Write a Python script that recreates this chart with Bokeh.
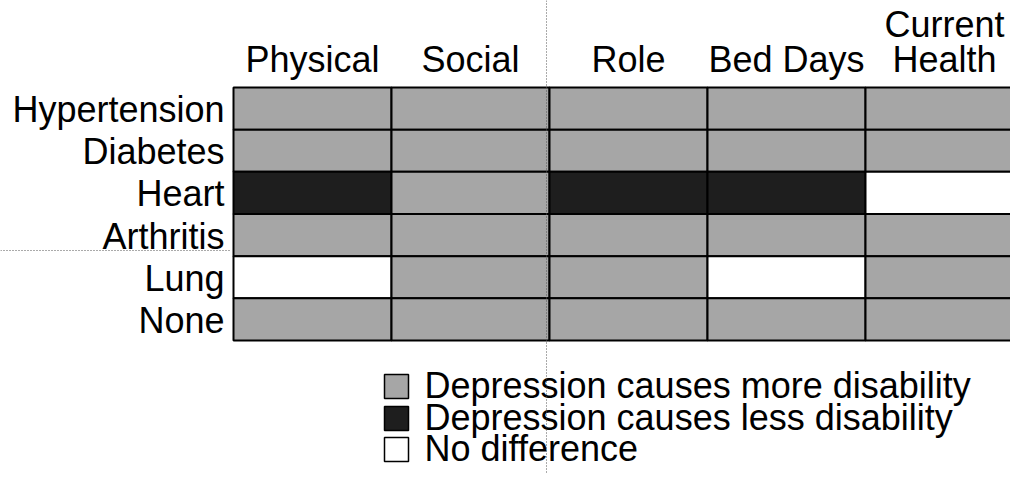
from bokeh.plotting import figure
from bokeh.models import Range1d
from bokeh.core.properties import value
from bokeh.embed import file_html
from bokeh.resources import INLINE

# ---- data ----
columns = ["Physical", "Social", "Role", "Bed Days", "Current\nHealth"]
conditions = ["Hypertension", "Diabetes", "Heart", "Arthritis", "Lung", "None"]
# status per condition (rows) x measure (columns)
status = [
    ["more", "more", "more", "more", "more"],
    ["more", "more", "more", "more", "more"],
    ["less", "more", "less", "less", "none"],
    ["more", "more", "more", "more", "more"],
    ["none", "more", "more", "none", "more"],
    ["more", "more", "more", "more", "more"],
]
legend_keys = ["more", "less", "none"]
legend_labels = [
    "Depression causes more disability",
    "Depression causes less disability",
    "No difference",
]
colors = {"more": "#a6a6a6", "less": "#1e1e1e", "none": "#ffffff"}

FONT = value("Liberation Sans")
FS = "36px"
TS = 13  # renderer baseline compensation, px

# pixel geometry helpers (picture coords)
GX0, CW = 233.0, 158.0      # grid left, column width
GY0, RH = 87.0, 42.17       # grid top, row height
W, H = 1010, 473

def dx(px):
    return (px - GX0) / CW

def dy(py):
    return (py - GY0) / RH

p = figure(width=W, height=H, output_backend="svg", toolbar_location=None,
           x_range=Range1d(dx(0), dx(W)),
           y_range=Range1d(dy(H), dy(0)),
           min_border=0, min_border_left=0, min_border_right=0,
           min_border_top=0, min_border_bottom=0)
p.axis.visible = False
p.grid.visible = False
p.outline_line_color = None
p.background_fill_color = "white"
p.border_fill_color = "white"

# ---- cells ----
left, right, top, bottom, fill = [], [], [], [], []
for j, row in enumerate(status):
    for i, s in enumerate(row):
        left.append(i); right.append(i + 1)
        top.append(j); bottom.append(j + 1)
        fill.append(colors[s])
p.quad(left=left, right=right, top=top, bottom=bottom, fill_color=fill,
       line_color="black", line_width=2)

# ---- row labels ----
p.text(x=[dx(224)] * len(conditions),
       y=[j + 0.5 + (14 - TS) / RH for j in range(len(conditions))],
       text=conditions, text_align="right", text_baseline="alphabetic",
       text_font=FONT, text_font_size=FS, text_color="black")

# ---- column headers ----
hx, hy, ht = [], [], []
for i, c in enumerate(columns):
    lines = c.split("\n")
    n = len(lines)
    for k, ln in enumerate(lines):
        hx.append(i + 0.5)
        hy.append(dy(72 - TS - 35 * (n - 1 - k)))
        ht.append(ln)
p.text(x=hx, y=hy, text=ht, text_align="center", text_baseline="alphabetic",
       text_font=FONT, text_font_size=FS, text_color="black")

# ---- legend ----
ly = [386, 418, 449]
p.rect(x=[dx(396)] * 3, y=[dy(v) for v in ly], width=24, height=24,
       width_units="screen", height_units="screen",
       fill_color=[colors[k] for k in legend_keys], line_color="black", line_width=1.5)
p.text(x=[dx(424)] * 3, y=[dy(v + 12 - TS) for v in ly], text=legend_labels,
       text_align="left", text_baseline="alphabetic",
       text_font=FONT, text_font_size=FS, text_color="black")

# ---- scan fold guides (dotted) ----
p.line(x=[dx(546), dx(546)], y=[dy(0), dy(H)], line_color="#555555",
       line_width=1, line_dash="1 2")
p.line(x=[dx(0), dx(231)], y=[dy(250), dy(250)], line_color="#555555",
       line_width=1, line_dash="1 2")

open("out.html", "w").write(file_html(p, INLINE))
